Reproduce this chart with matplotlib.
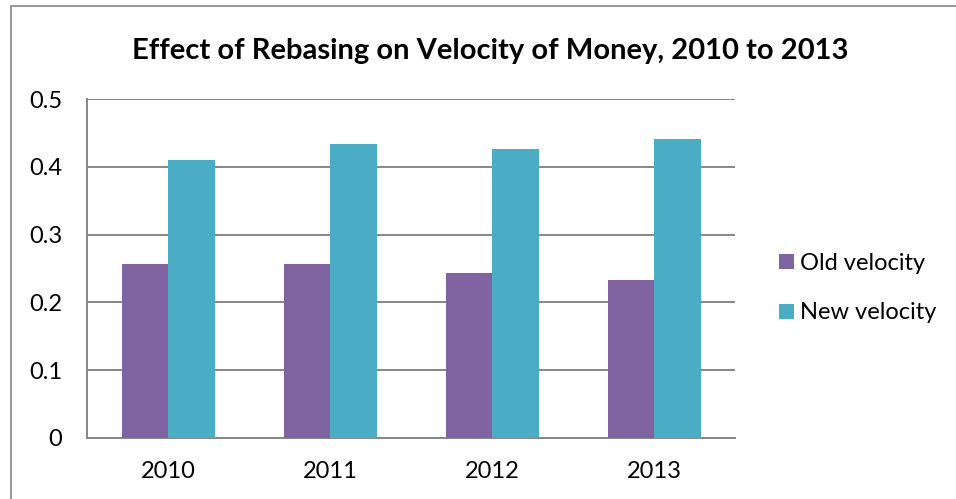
import matplotlib
matplotlib.use('Agg')
import matplotlib.pyplot as plt
from matplotlib.patches import Rectangle
import numpy as np

# data
years = ['2010', '2011', '2012', '2013']
old_velocity = [0.257, 0.256, 0.244, 0.233]
new_velocity = [0.410, 0.434, 0.427, 0.441]

plt.rcParams['font.family'] = ['Lato', 'DejaVu Sans']

fig = plt.figure(figsize=(9.56, 4.99), dpi=100)
ax = fig.add_axes([0.0913, 0.1228, 0.6777, 0.6782])

# outer chart frame (only top and left edges show)
fig.patches.append(Rectangle((11 / 956, -0.1), 1.2, (499 - 6) / 499 + 0.1,
                             transform=fig.transFigure, fill=False,
                             edgecolor='#868686', linewidth=1.2))

x = np.arange(len(years))
w = 0.286
grid_c = '#868686'

ax.bar(x - w / 2, old_velocity, w, color='#8064A2', label='Old velocity', zorder=3)
ax.bar(x + w / 2, new_velocity, w, color='#4BACC6', label='New velocity', zorder=3)

ax.set_xlim(-0.5, 3.5)
ax.set_ylim(0, 0.5)
ax.set_yticks([0, 0.1, 0.2, 0.3, 0.4, 0.5])
ax.set_yticklabels(['0', '0.1', '0.2', '0.3', '0.4', '0.5'])
ax.set_xticks(x)
ax.set_xticklabels(years)
ax.tick_params(length=0, labelsize=17, pad=18)
ax.tick_params(axis='x', pad=16.5)
ax.yaxis.grid(True, color=grid_c, linewidth=1.4, zorder=0)
ax.set_axisbelow(True)

for s in ['top', 'right']:
    ax.spines[s].set_visible(False)
for s in ['left', 'bottom']:
    ax.spines[s].set_color(grid_c)
    ax.spines[s].set_linewidth(1.4)

fig.text(490 / 956, 1 - 51 / 499, 'Effect of Rebasing on Velocity of Money, 2010 to 2013',
         ha='center', va='center', fontsize=21, fontweight='bold')

ax.legend(loc='center left', bbox_to_anchor=(770 / 956, 1 - 288 / 499),
          bbox_transform=fig.transFigure, frameon=False, fontsize=17,
          handlelength=0.6, handleheight=0.6, handletextpad=0.25,
          labelspacing=1.22, borderaxespad=0)

fig.savefig('out.png', dpi=100)
